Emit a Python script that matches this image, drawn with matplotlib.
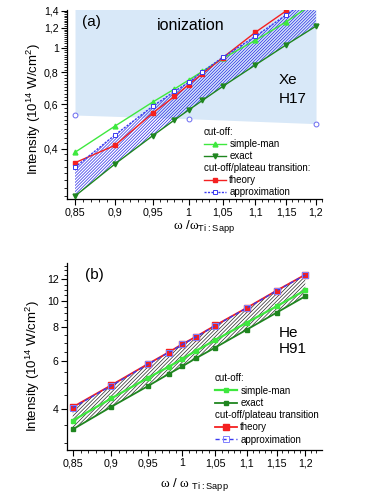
import numpy as np
import matplotlib
matplotlib.use('Agg')
import matplotlib.pyplot as plt
from matplotlib.ticker import FixedLocator, FixedFormatter, NullFormatter

plt.rcParams['font.family'] = ['Liberation Sans', 'DejaVu Sans']
plt.rcParams['mathtext.fontset'] = 'custom'
plt.rcParams['mathtext.rm'] = 'Liberation Serif'
plt.rcParams['mathtext.sf'] = 'Liberation Sans'
plt.rcParams['mathtext.default'] = 'regular'
plt.rcParams['hatch.linewidth'] = 0.5

# frequency (units of Ti:Sapphire frequency)
omega = [0.85, 0.9, 0.95, 0.98, 1.0, 1.02, 1.05, 1.1, 1.15, 1.2]

# (a) Xe, H17  -- intensity in 1e14 W/cm^2
xe_simple = [0.387, 0.491, 0.611, 0.688, 0.746, 0.807, 0.908, 1.069, 1.267, 1.52]
xe_exact = [0.260, 0.348, 0.450, 0.519, 0.568, 0.620, 0.704, 0.855, 1.028, 1.218]
xe_theory = [0.352, 0.412, 0.553, 0.643, 0.715, 0.790, 0.914, 1.150, 1.40, np.nan]
xe_approx = [0.338, 0.453, 0.588, 0.673, 0.730, 0.805, 0.917, 1.109, 1.35, 1.64]
ion_omega = [0.85, 1.0, 1.2]
ion_level = [0.543, 0.525, 0.502]

# (b) He, H91
he_simple = [3.63, 4.38, 5.21, 5.73, 6.12, 6.55, 7.18, 8.32, 9.56, 10.96]
he_exact = [3.37, 4.08, 4.86, 5.39, 5.75, 6.15, 6.74, 7.84, 9.06, 10.41]
he_theory = [4.07, 4.90, 5.86, 6.48, 6.94, 7.38, 8.13, 9.43, 10.92, 12.50]
he_approx = [4.05, 4.88, 5.84, 6.46, 6.92, 7.36, 8.11, 9.41, 10.90, 12.47]

x_ticks = [0.85, 0.9, 0.95, 1.0, 1.05, 1.1, 1.15, 1.2]
x_ticklabels = ['0,85', '0,9', '0,95', '1', '1,05', '1,1', '1,15', '1,2']
ya_ticks = [0.4, 0.6, 0.8, 1.0, 1.2, 1.4]
ya_ticklabels = ['0,4', '0,6', '0,8', '1', '1,2', '1,4']
yb_ticks = [4, 6, 8, 10, 12]
yb_ticklabels = ['4', '6', '8', '10', '12']

LIGHT_GREEN = '#3ee83e'
DARK_GREEN = '#1f861f'
RED = '#f42020'
BLUE = '#3a3af0'

fig = plt.figure(figsize=(3.74, 4.98), dpi=100)
ax_a = fig.add_axes([67 / 374, 1 - 199.5 / 498, 255 / 374, 189.5 / 498])
ax_b = fig.add_axes([67 / 374, 1 - 450 / 498, 254.7 / 374, 187 / 498])


def style_axes(ax, xlim, ylim, yticks, yticklabels, yminor):
    ax.set_xscale('log')
    ax.set_yscale('log')
    ax.set_xlim(*xlim)
    ax.set_ylim(*ylim)
    ax.xaxis.set_major_locator(FixedLocator(x_ticks))
    ax.xaxis.set_major_formatter(FixedFormatter(x_ticklabels))
    ax.xaxis.set_minor_locator(FixedLocator(np.arange(0.84, 1.231, 0.01)))
    ax.xaxis.set_minor_formatter(NullFormatter())
    ax.yaxis.set_major_locator(FixedLocator(yticks))
    ax.yaxis.set_major_formatter(FixedFormatter(yticklabels))
    ax.yaxis.set_minor_locator(FixedLocator(yminor))
    ax.yaxis.set_minor_formatter(NullFormatter())
    ax.spines['top'].set_visible(False)
    ax.spines['right'].set_visible(False)
    for s in ('left', 'bottom'):
        ax.spines[s].set_linewidth(0.9)
    ax.tick_params(which='major', length=4, width=0.8, labelsize=7.7, pad=2)
    ax.tick_params(which='minor', length=2, width=0.6)
    ax.patch.set_alpha(0)


def add_legends(ax, h1, h2, title2, x, y1, y2):
    kw = dict(loc='upper left', frameon=False, fontsize=7, title_fontsize=7,
              alignment='left', handlelength=2.3, handletextpad=0.3,
              labelspacing=0.25, borderpad=0, borderaxespad=0)
    leg1 = ax.legend(handles=h1, title='cut-off:', bbox_to_anchor=(x, y1), **kw)
    ax.add_artist(leg1)
    ax.legend(handles=h2, title=title2, bbox_to_anchor=(x, y2), **kw)


# ---------- (a) ----------
ax = ax_a
ax.fill_between(ion_omega, ion_level, 2.0, color='#d8e8f8', lw=0, zorder=0)
ax.plot(ion_omega, ion_level, ls='none', marker='o', ms=3.5, mfc='white',
        mec='#6a6af0', mew=0.7, zorder=1, clip_on=False)
ax.fill_between(omega, xe_exact, xe_approx, facecolor='none', edgecolor='#2828e8',
                hatch='/' * 11, lw=0, zorder=1)
l_sm, = ax.plot(omega, xe_simple, color=LIGHT_GREEN, lw=1, marker='^', ms=3.5, zorder=3,
                label='simple-man')
l_ex, = ax.plot(omega, xe_exact, color=DARK_GREEN, lw=1, marker='v', ms=3.5, zorder=3,
                label='exact')
l_th, = ax.plot(omega, xe_theory, color=RED, lw=1, marker='s', ms=3, zorder=3,
                label='theory')
l_ap, = ax.plot(omega, xe_approx, color=BLUE, lw=1, ls=(0, (1.5, 1)), marker='s', ms=3,
                mfc='white', mec=BLUE, mew=0.7, zorder=3, label='approximation')
style_axes(ax, (0.8403, 1.2103), (0.252, 1.41), ya_ticks, ya_ticklabels,
           np.arange(0.26, 1.41, 0.02))
ax.set_xlabel(r'$\mathrm{\omega}$ /$\mathrm{\omega}_{\mathsf{Ti:Sapp}}$', fontsize=9.5)
ax.xaxis.set_label_coords(0.537, -0.095)
ax.set_ylabel('Intensity (10$^{14}$ W/cm$^{2}$)', fontsize=9.5)
ax.yaxis.set_label_coords(-0.095, 0.478)
ax.text(0.059, 0.937, '(a)', transform=ax.transAxes, fontsize=11, va='center')
ax.text(0.353, 0.918, 'ionization', transform=ax.transAxes, fontsize=11.5, va='center')
ax.text(0.831, 0.628, 'Xe', transform=ax.transAxes, fontsize=11, va='center')
ax.text(0.831, 0.528, 'H17', transform=ax.transAxes, fontsize=11, va='center')
add_legends(ax, [l_sm, l_ex], [l_th, l_ap], 'cut-off/plateau transition:',
            0.537, 0.385, 0.195)

# ---------- (b) ----------
ax = ax_b
ax.fill_between(omega, he_exact, he_theory, facecolor='none', edgecolor='#282828',
                hatch='/' * 9, lw=0, zorder=1)
m_sm, = ax.plot(omega, he_simple, color=LIGHT_GREEN, lw=1.6, marker='s', ms=2.5, zorder=3,
                label='simple-man')
m_ex, = ax.plot(omega, he_exact, color=DARK_GREEN, lw=1.3, marker='s', ms=2.5, zorder=3,
                label='exact')
m_th, = ax.plot(omega, he_theory, color=RED, lw=1.3, marker='s', ms=4, zorder=3,
                label='theory')
m_ap, = ax.plot(omega, he_approx, color=BLUE, lw=1, ls=(0, (3, 2)), marker='s', ms=4,
                mfc='none', mec='#8080ff', mew=0.7, zorder=4, label='approximation')
style_axes(ax, (0.8428, 1.2296), (2.83, 13.8), yb_ticks, yb_ticklabels,
           np.arange(3.0, 13.6, 0.5))
ax.set_xlabel(r'$\mathrm{\omega}$ / $\mathrm{\omega}_{\mathsf{\ Ti:Sapp}}$', fontsize=9.5)
ax.xaxis.set_label_coords(0.50, -0.139)
ax.set_ylabel('Intensity (10$^{14}$ W/cm$^{2}$)', fontsize=9.5)
ax.yaxis.set_label_coords(-0.10, 0.45)
ax.text(0.071, 0.936, '(b)', transform=ax.transAxes, fontsize=11, va='center')
ax.text(0.832, 0.624, 'He', transform=ax.transAxes, fontsize=11, va='center')
ax.text(0.832, 0.540, 'H91', transform=ax.transAxes, fontsize=11, va='center')
add_legends(ax, [m_sm, m_ex], [m_th, m_ap], 'cut-off/plateau transition',
            0.581, 0.41, 0.215)

fig.savefig('out.png', dpi=100)
